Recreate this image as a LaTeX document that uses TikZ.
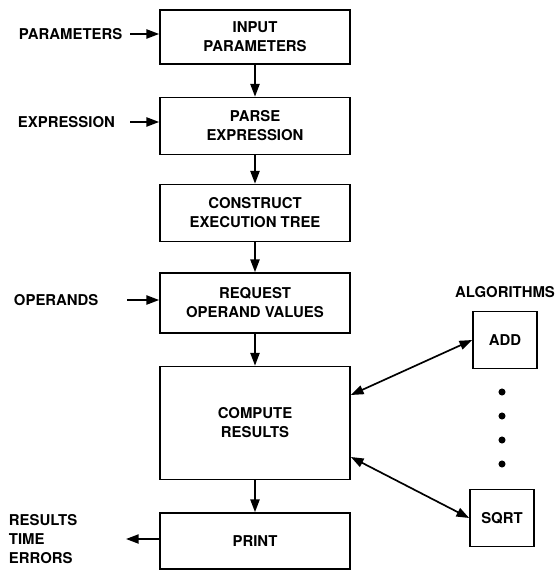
\documentclass[tikz,border=0pt]{standalone}
\usepackage{fontspec}
\setmainfont{TeX Gyre Heros}
\usetikzlibrary{arrows.meta}

\begin{document}
\begin{tikzpicture}[x=0.025cm,y=-0.025cm,>={Triangle[length=9pt,width=6.5pt]},font=\fontsize{10.6}{13.5}\selectfont\bfseries]
 \tikzstyle{stepbox} = [draw=black,line width=1.2pt,align=center,minimum width=4.75cm,inner sep=0]
 \tikzstyle{algbox} = [draw=black,line width=1.2pt,align=center,minimum width=1.6cm,minimum height=1.42cm,inner sep=0]
 \tikzstyle{flow} = [line width=1.2pt,->]
 \tikzstyle{both} = [line width=1.2pt,<->]
 \tikzstyle{dot} = [fill=black,circle,inner sep=0,minimum size=5pt]

 \useasboundingbox (0,0) rectangle (559,571);

 % Main steps
 \node[stepbox,minimum height=1.35cm] (inp) at (255,37) {INPUT\\PARAMETERS};
 \node[stepbox,minimum height=1.425cm] (parse) at (255,126) {PARSE\\EXPRESSION};
 \node[stepbox,minimum height=1.425cm] (constr) at (255,213) {CONSTRUCT\\EXECUTION TREE};
 \node[stepbox,minimum height=1.5cm] (req) at (255,303) {REQUEST\\OPERAND VALUES};
 \node[stepbox,minimum height=2.825cm] (comp) at (255,423) {COMPUTE\\RESULTS};
 \node[stepbox,minimum height=1.4cm] (print) at (255,541) {PRINT};

 \draw[flow] (inp) -- (parse);
 \draw[flow] (parse) -- (constr);
 \draw[flow] (constr) -- (req);
 \draw[flow] (req) -- (comp);
 \draw[flow] (comp) -- (print);

 % Inputs and output
 \node[anchor=west] (parl) at (14,34) {PARAMETERS};
 \node[anchor=west] (exprl) at (13,122) {EXPRESSION};
 \node[anchor=west] (opl) at (9,300) {OPERANDS};
 \node[anchor=west,align=left] (resl) at (4,539) {RESULTS\\TIME\\ERRORS};
 \coordinate (parin) at (130,34);
 \coordinate (exprin) at (130,122);
 \coordinate (opin) at (127,300);
 \coordinate (resout) at (126,539);
 \draw[flow] (parin) -- (parin -| inp.west);
 \draw[flow] (exprin) -- (exprin -| parse.west);
 \draw[flow] (opin) -- (opin -| req.west);
 \draw[flow] (resout -| print.west) -- (resout);

 % Algorithms
 \node (algo) at (505,292) {ALGORITHMS};
 \node[algbox] (add) at (505,340) {ADD};
 \node[algbox] (sqrt) at (502,518) {SQRT};
 \foreach \y in {392,416,440,464}
  \node[dot] at (502,\y) {};
 \coordinate (cadd) at ([yshift=0.7cm]comp.east);
 \coordinate (csqrt) at ([yshift=-0.85cm]comp.east);
 \draw[both] (cadd) -- (add.west);
 \draw[both] (csqrt) -- (sqrt.west);

\end{tikzpicture}
\end{document}
